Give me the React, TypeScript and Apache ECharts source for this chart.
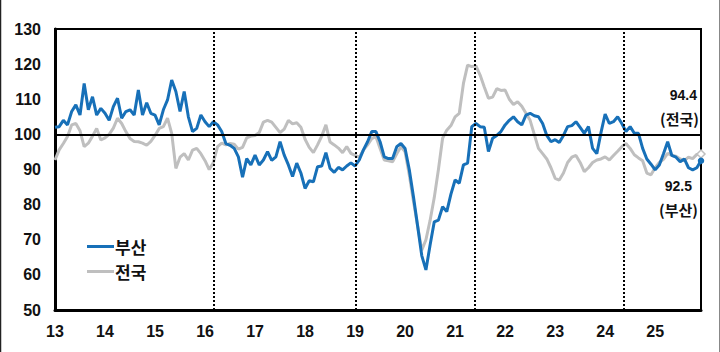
import React, { useEffect, useRef } from "react";
import * as echarts from "echarts";

// Year tick labels (2013 - 2025), monthly data from Jan 2013 to Dec 2025
const YEAR_LABELS = ["13", "14", "15", "16", "17", "18", "19", "20", "21", "22", "23", "24", "25"];

// 부산 (Busan)
const BUSAN = [
  102, 102.2, 104, 102.7, 106.5, 108.4, 105.5, 114.5, 107, 110.7, 105.5, 107.4,
  106, 104, 107.9, 110.3, 104.6, 106.5, 107, 105.5, 112.6, 105.5, 109, 106,
  105.5, 102.7, 107, 109.8, 115.5, 112.2, 106.5, 112.2, 105, 100.8, 101.7, 105.5,
  103.6, 102.2, 103.6, 102.7, 100.8, 97.4, 96.9, 96, 93.6, 87.8, 93.1, 91.3,
  94.1, 91.3, 92.7, 95.1, 92.6, 93.6, 97.9, 94.1, 91.3, 88, 91.8, 89,
  84.6, 86.8, 86.5, 90.8, 91, 94.8, 90.3, 89.2, 90.6, 89.9, 91, 91.9,
  91, 92.7, 95.6, 97.9, 100.8, 100.8, 97.9, 93.6, 93.1, 93.1, 96.5, 97.4,
  96, 90, 82.3, 74, 65.5, 61.4, 68.5, 75.1, 75.6, 79.4, 78, 83,
  87, 86.1, 91.3, 91.8, 102.2, 103.1, 102.2, 102, 95.1, 98.9, 99.7, 100.8,
  102.7, 104, 105, 103.6, 102.7, 105.5, 106, 105.3, 105, 103.1, 99.7, 97.9,
  98.5, 97.7, 99.7, 102.2, 102.5, 103.6, 102, 100.3, 102.2, 96, 94.5, 100.5,
  105.8, 103.1, 103.6, 105, 103.1, 100.8, 102.2, 100.3, 100.3, 96, 93, 91.5,
  89.9, 91.3, 94.5, 97.9, 94, 93.5, 92.2, 93, 90.5, 89.9, 90.5, 92.5,
];

// 전국 (Nationwide)
const NATION = [
  92.7, 95.6, 97.4, 99.4, 102.7, 103.1, 101, 96.5, 97.5, 99.5, 101.7, 98.4,
  99, 100, 101.8, 104.6, 103.1, 100.8, 98.8, 98, 97.9, 97.5, 96.9, 98,
  99.7, 101.7, 102.2, 104.6, 100.3, 90.3, 93.5, 94.5, 92.7, 95.5, 96, 94.5,
  92.5, 90, 92, 96.5, 97.5, 97, 97.4, 97.2, 95.8, 96.3, 99, 99.5,
  99.7, 100.5, 103.5, 104, 103.5, 102, 100.5, 101.5, 104, 103, 103.3, 102,
  98.6, 96.3, 94.8, 97, 99.5, 102.7, 97.8, 97, 96.1, 94.8, 96.5, 94.6,
  94, 93.5, 95.5, 97, 98.8, 99.4, 96, 92.7, 92.5, 92.2, 94.5, 96.5,
  95, 88.5, 81, 74, 67, 70, 75.5, 82, 90, 98.9, 101.2, 102.5,
  105, 106, 114.5, 119.7, 119.3, 119.5, 116.9, 113.5, 110.3, 110.6, 113, 112.5,
  112.6, 110, 108.5, 109.3, 108, 106, 104, 100, 96, 94.5, 93, 90.5,
  87.5, 87, 89, 92, 93.5, 94, 92, 89.4, 90.5, 92, 92.7, 93,
  93.6, 92.7, 94, 95.2, 96.5, 97.4, 96, 94.2, 93.3, 92.5, 89, 88.5,
  90.5, 92, 92.9, 94.6, 94, 93.8, 93, 92.5, 93.5, 93.1, 94.3, 94.4,
];

// Dotted vertical reference positions (month index from Jan 2013)
const VLINES = [38.1, 72.2, 100.7, 136.5];

const BLUE = "#1770b8";
const GRAY = "#bfbfbf";
const NUM_FONT = "'Liberation Sans', Arial, sans-serif";
const KR_FONT = "'Noto Sans CJK KR', sans-serif";

export default function App() {
  const ref = useRef<HTMLDivElement>(null);

  useEffect(() => {
    if (!ref.current) return;
    const chart = echarts.init(ref.current, undefined, { renderer: "svg" });
    const n = BUSAN.length;
    const toPairs = (arr: number[]) => arr.map((v, i) => [i, v]);

    const lastMarker = (arr: number[], color: string, symbol: string, fill: string, size: number) => ({
      symbol,
      symbolSize: size,
      silent: true,
      data: [{ coord: [arr.length - 1, arr[arr.length - 1]], itemStyle: { color: fill, borderColor: color, borderWidth: 1.5 }, label: { show: false } }],
    });

    chart.setOption({
      animation: false,
      backgroundColor: "#ffffff",
      grid: {
        left: 55,
        right: 19,
        top: 29,
        bottom: 42,
        show: true,
        borderColor: "#000",
        borderWidth: 2,
        backgroundColor: "transparent",
      },
      legend: {
        orient: "vertical",
        left: 82,
        top: 233,
        itemWidth: 27,
        itemHeight: 3,
        itemGap: 8,
        icon: "rect",
        textStyle: { fontFamily: KR_FONT, fontWeight: "bold", fontSize: 17, color: "#111", padding: [0, 0, 0, -4] },
        data: [
          { name: "부산", itemStyle: { color: BLUE } },
          { name: "전국", itemStyle: { color: GRAY } },
        ],
      },
      xAxis: {
        type: "value",
        min: 0,
        max: n - 1,
        interval: 12,
        axisLine: { show: true, lineStyle: { color: "#000", width: 3 } },
        axisTick: { show: false },
        splitLine: { show: false },
        axisLabel: {
          margin: 13,
          showMaxLabel: false,
          fontFamily: NUM_FONT,
          fontWeight: "bold",
          fontSize: 16,
          color: "#111",
          formatter: (v: number) => (v % 12 === 0 ? YEAR_LABELS[v / 12] ?? "" : ""),
        },
      },
      yAxis: {
        type: "value",
        min: 50,
        max: 130,
        interval: 10,
        axisLine: { show: true, lineStyle: { color: "#000", width: 3 } },
        axisTick: { show: false },
        splitLine: { show: false },
        axisLabel: {
          margin: 14,
          fontFamily: NUM_FONT,
          fontWeight: "bold",
          fontSize: 16,
          color: "#111",
        },
      },
      series: [
        {
          name: "전국",
          type: "line",
          data: toPairs(NATION),
          showSymbol: false,
          symbol: "none",
          lineStyle: { color: GRAY, width: 3 },
          itemStyle: { color: GRAY },
          z: 2,
          markPoint: lastMarker(NATION, GRAY, "diamond", "#ffffff", 8),
          markLine: {
            silent: true,
            symbol: "none",
            label: { show: false },
            lineStyle: { color: "#000", type: [2, 2], width: 2 },
            data: VLINES.map((x) => ({ xAxis: x })),
          },
        },
        {
          name: "부산",
          type: "line",
          data: toPairs(BUSAN),
          showSymbol: false,
          symbol: "none",
          lineStyle: { color: BLUE, width: 3 },
          itemStyle: { color: BLUE },
          z: 3,
          markPoint: lastMarker(BUSAN, BLUE, "circle", BLUE, 5),
          markLine: {
            silent: true,
            symbol: "none",
            label: { show: false },
            lineStyle: { color: "#000", type: "solid", width: 2 },
            data: [{ yAxis: 100 }],
          },
        },
      ],
      graphic: [
        { type: "line", shape: { x1: 0.5, y1: 0, x2: 0.5, y2: 352 }, style: { stroke: "#222", lineWidth: 1.5 } },
        { type: "line", shape: { x1: 719.5, y1: 0, x2: 719.5, y2: 352 }, style: { stroke: "#888", lineWidth: 1 } },
        { type: "text", right: 23, top: 88, style: { text: "94.4", font: `bold 14px ${NUM_FONT}`, fill: "#111" } },
        { type: "text", right: 21, top: 111, style: { text: "(전국)", font: `bold 15px ${KR_FONT}`, fill: "#111" } },
        { type: "text", right: 28, top: 179, style: { text: "92.5", font: `bold 14px ${NUM_FONT}`, fill: "#111" } },
        { type: "text", right: 22, top: 202, style: { text: "(부산)", font: `bold 15px ${KR_FONT}`, fill: "#111" } },
      ],
    });

    return () => chart.dispose();
  }, []);

  return (
    <div
      ref={ref}
      style={{ position: "fixed", left: 0, top: 0, width: 720, height: 352, background: "#fff" }}
    />
  );
}
